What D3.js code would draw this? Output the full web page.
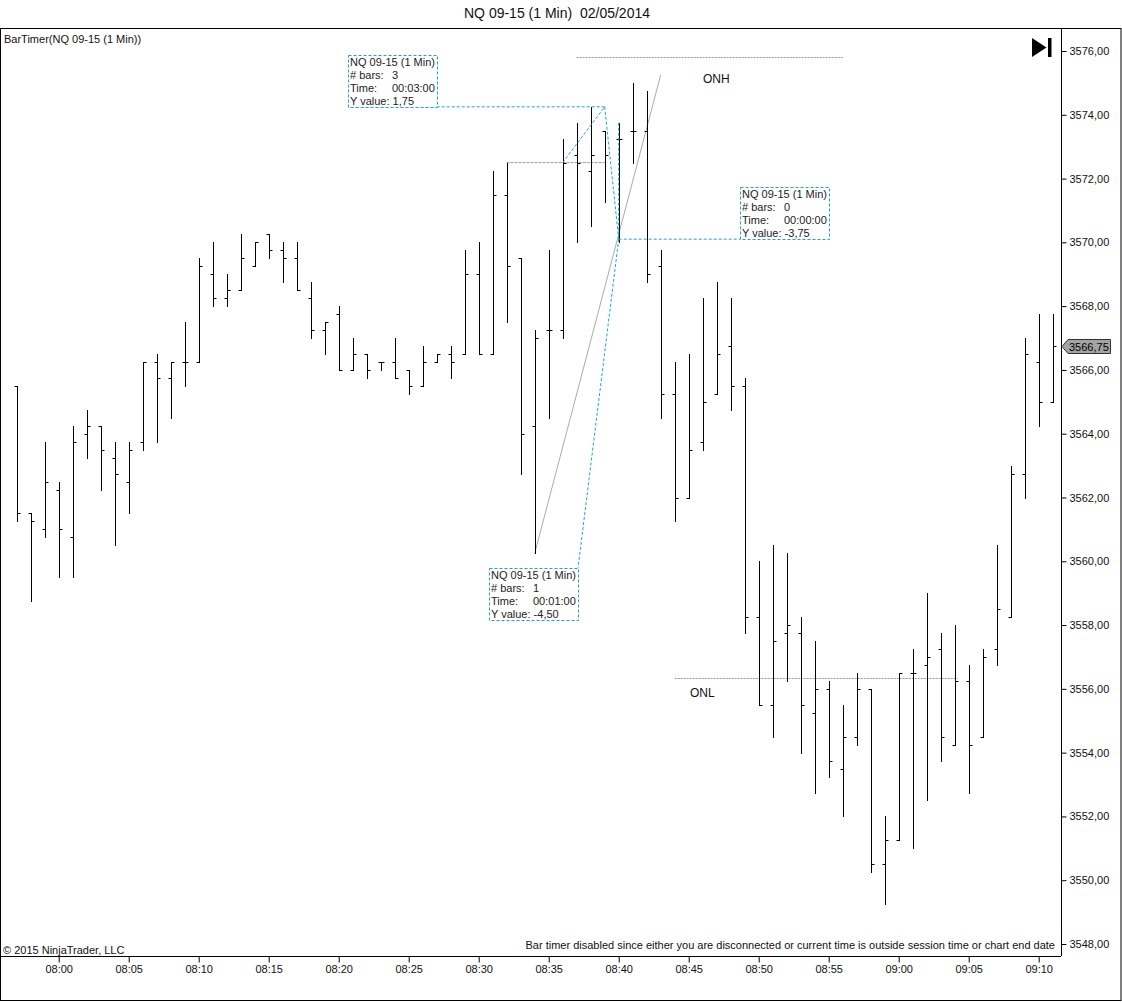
<html>
  <head>
    <style>
      body { margin: 0; background: #fff; }
      svg text { font-family: "Liberation Sans", Arial, sans-serif; }
    </style>
  </head>
  <body>
    <div id="chart"></div>
    <script src="https://d3js.org/d3.v7.min.js"></script>
    <script>
      // bar times, one minute each
      const times = ["07:57","07:58","07:59","08:00","08:01","08:02","08:03","08:04","08:05","08:06",
        "08:07","08:08","08:09","08:10","08:11","08:12","08:13","08:14","08:15","08:16",
        "08:17","08:18","08:19","08:20","08:21","08:22","08:23","08:24","08:25","08:26",
        "08:27","08:28","08:29","08:30","08:31","08:32","08:33","08:34","08:35","08:36",
        "08:37","08:38","08:39","08:40","08:41","08:42","08:43","08:44","08:45","08:46",
        "08:47","08:48","08:49","08:50","08:51","08:52","08:53","08:54","08:55","08:56",
        "08:57","08:58","08:59","09:00","09:01","09:02","09:03","09:04","09:05","09:06",
        "09:07","09:08","09:09","09:10","09:11"];

      const opens = [3565.5,3561.5,3561,3562.25,3560.75,3564,3564.25,3563.25,3562.5,3563.75,
        3566.25,3565.75,3566.25,3566.25,3569,3568.25,3568.5,3569.25,3570.25,3569.75,
        3569.5,3568.25,3567.25,3567.75,3566,3566.5,3566.25,3566.25,3566,3565.5,
        3566.25,3566.5,3566.5,3569,3566.5,3571.5,3569.5,3564.25,3567.25,3567.25,
        3572.75,3572.25,3573.5,3573.25,3573.5,3573.5,3569.25,3565.25,3562,3563.75,
        3565.25,3566.75,3565.5,3558.25,3555.5,3557.75,3557.75,3555.25,3556,3553.5,
        3554.5,3556,3550.5,3551.25,3556.5,3556.75,3557.25,3554.25,3556.25,3554.5,
        3557.25,3558.25,3562.75,3566.25,3565];
      const highs = [3565.5,3561.5,3563.75,3562.5,3564.25,3564.75,3564.25,3563.75,3563.75,3566.25,
        3566.5,3566.25,3567.5,3569.5,3570,3569,3570.25,3570,3570.25,3570,
        3570,3568.75,3567.5,3568,3567,3566.5,3566.25,3567,3566,3566.75,
        3566.5,3566.75,3569.75,3570,3572.25,3572.5,3569.5,3567.25,3569.75,3573.25,
        3573.75,3574.25,3573.5,3573.75,3575,3574.75,3569.75,3566.25,3566.5,3568.25,
        3568.75,3568.25,3565.75,3560,3560.5,3560.25,3558.25,3557.5,3556.25,3555.5,
        3556.5,3556,3552,3556.5,3557.25,3559,3557.75,3558,3556.75,3557.25,
        3560.5,3563,3567,3567.75,3567.75];
      const lows = [3561.25,3558.75,3560.75,3559.5,3559.5,3563.25,3562.25,3560.5,3561.5,3563.5,
        3563.75,3564.5,3565.5,3566.25,3568,3568,3568.5,3569.25,3569.5,3568.75,
        3568.5,3567,3566.5,3566,3566,3565.75,3566,3565.75,3565.25,3565.5,
        3566.25,3565.75,3566.5,3566.5,3566.5,3567.5,3562.75,3560.25,3564.5,3567,
        3570,3570.5,3571.25,3570,3572.5,3568.75,3564.5,3561.25,3562,3563.5,
        3565.25,3564.75,3557.75,3555.5,3554.5,3556.25,3554,3552.75,3553.25,3552,
        3554.25,3550.25,3549.25,3551.25,3551,3552.5,3553.75,3554.25,3552.75,3554.5,
        3556.75,3558.25,3562,3564.25,3565];
      const closes = [3561.5,3561.25,3562.5,3561,3563.75,3564.25,3563.5,3562.75,3563.5,3566.25,
        3565.75,3566.25,3566.25,3569.25,3568.25,3568.5,3569.5,3570,3569.75,3569.5,
        3568.5,3567.25,3567.5,3566,3566.5,3566,3566.25,3565.75,3565.5,3566.25,
        3566.5,3566.25,3569,3566.5,3571.5,3569.25,3564,3567,3567.25,3572.5,
        3572.5,3572.75,3572.75,3573.25,3573.5,3569,3565.25,3562,3563.5,3565,
        3566.5,3565.5,3558.25,3555.5,3557.5,3558,3555.5,3556,3553.75,3554.5,
        3556,3550.5,3551.25,3556.5,3556.5,3557,3554.5,3556.25,3554.25,3557,
        3558.5,3562.75,3566.5,3565,3566.75];

      const yTicks = [3548,3550,3552,3554,3556,3558,3560,3562,3564,3566,3568,3570,3572,3574,3576];
      const lastPrice = 3566.75;

      // drawing tool levels (bar index, price)
      const onhLevel = {from: 40, to: 59, price: 3575.8, label: "ONH"};
      const onlLevel = {from: 47, to: 67.2, price: 3556.35, label: "ONL"};
      const greyLine = [[35, 3572.5], [42, 3572.5]];
      const trendLine = [[37, 3560.25], [46, 3575.25]];

      // rulers: start, end, text box corner
      const rulers = [
        {pts: [[39, 3572.5], [42, 3574.25]], box: [23.65, 3574.25], anchor: "bottom-left",
         lines: [["NQ 09-15 (1 Min)", ""], ["# bars:", "3"], ["Time:", "00:03:00"], ["Y value: 1,75", ""]]},
        {pts: [[43, 3573.75], [43, 3570.1]], box: [51.67, 3570.1], anchor: "bottom-left",
         lines: [["NQ 09-15 (1 Min)", ""], ["# bars:", "0"], ["Time:", "00:00:00"], ["Y value: -3,75", ""]]},
        {pts: [[42, 3574.25], [43, 3570.1]], box: [40.1, 3559.8], anchor: "top-right",
         lines: [["NQ 09-15 (1 Min)", ""], ["# bars:", "1"], ["Time:", "00:01:00"], ["Y value: -4,50", ""]]}
      ];

      const W = 1122, H = 1002;
      const plotRight = 1061, plotTop = 28, plotBottom = 956;
      const cyan = "#1aa6cf";

      const svg = d3.select("#chart").append("svg")
        .attr("width", W).attr("height", H);

      const parse = d3.timeParse("%H:%M");
      const dates = times.map(parse);

      const x = d3.scaleTime()
        .domain([dates[0], dates[dates.length - 1]])
        .range([16.7, 1052.7]);
      const xi = d3.scaleLinear().domain([0, times.length - 1]).range(x.range());
      const y = d3.scaleLinear().domain([3548, 3576]).range([944, 51]);

      const px = v => Math.round(v) + 0.5;

      // title
      svg.append("text").attr("x", 557).attr("y", 13)
        .attr("text-anchor", "middle").attr("dominant-baseline", "central")
        .attr("font-size", 14).attr("fill", "#111")
        .text("NQ 09-15 (1 Min)\u00a0\u00a002/05/2014");

      // frames
      svg.append("rect").attr("x", 0.5).attr("y", plotTop + 0.5)
        .attr("width", W - 1.5).attr("height", 1000.5 - plotTop - 0.5)
        .attr("fill", "none").attr("stroke", "#000");
      svg.append("line").attr("x1", 0).attr("x2", plotRight).attr("y1", plotBottom + 0.5).attr("y2", plotBottom + 0.5)
        .attr("stroke", "#000");
      svg.append("line").attr("x1", plotRight + 0.5).attr("x2", plotRight + 0.5).attr("y1", plotTop).attr("y2", plotBottom)
        .attr("stroke", "#000");

      // axes
      const xAxis = svg.append("g").attr("transform", `translate(0,${plotBottom + 0.5})`)
        .call(d3.axisBottom(x).ticks(d3.timeMinute.every(5)).tickFormat(d3.timeFormat("%H:%M"))
          .tickSize(6).tickPadding(3));
      xAxis.select(".domain").remove();
      xAxis.selectAll("text").attr("font-size", 11).attr("font-family", "Liberation Sans, Arial").attr("fill", "#111");

      const yAxis = svg.append("g").attr("transform", `translate(${plotRight + 0.5},0)`)
        .call(d3.axisRight(y).tickValues(yTicks)
          .tickFormat(v => d3.format(".2f")(v).replace(".", ","))
          .tickSize(5).tickPadding(3));
      yAxis.select(".domain").remove();
      yAxis.selectAll("text").attr("font-size", 11).attr("font-family", "Liberation Sans, Arial").attr("fill", "#111");

      // texts
      svg.append("text").attr("x", 4).attr("y", 39).attr("dominant-baseline", "central")
        .attr("font-size", 11).attr("fill", "#111").text("BarTimer(NQ 09-15 (1 Min))");
      svg.append("text").attr("x", 3).attr("y", 950).attr("dominant-baseline", "central")
        .attr("font-size", 11).attr("fill", "#111").text("\u00a9 2015 NinjaTrader, LLC");
      svg.append("text").attr("x", 1055).attr("y", 945).attr("dominant-baseline", "central")
        .attr("text-anchor", "end").attr("font-size", 11).attr("fill", "#111")
        .text("Bar timer disabled since either you are disconnected or current time is outside session time or chart end date");

      // play/end icon
      svg.append("path").attr("d", "M1032,38 L1046.5,47.5 L1032,57 Z").attr("fill", "#000");
      svg.append("rect").attr("x", 1048).attr("y", 38).attr("width", 3.5).attr("height", 19).attr("fill", "#000");

      // levels
      [onhLevel, onlLevel].forEach(l => {
        svg.append("line")
          .attr("x1", xi(l.from)).attr("x2", xi(l.to))
          .attr("y1", px(y(l.price))).attr("y2", px(y(l.price)))
          .attr("stroke", "#9a9a9a").attr("stroke-dasharray", "2,1");
      });
      svg.append("text").attr("x", 703).attr("y", y(onhLevel.price) + 22).attr("dominant-baseline", "central")
        .attr("font-size", 12).attr("fill", "#111").text(onhLevel.label);
      svg.append("text").attr("x", 690).attr("y", y(onlLevel.price) + 15).attr("dominant-baseline", "central")
        .attr("font-size", 12).attr("fill", "#111").text(onlLevel.label);

      const lineGen = d3.line().x(d => xi(d[0])).y(d => y(d[1]));
      svg.append("path").attr("d", lineGen(greyLine)).attr("stroke", "#999").attr("stroke-dasharray", "3,1").attr("fill", "none");
      svg.append("path").attr("d", lineGen(trendLine)).attr("stroke", "#aaa").attr("fill", "none");

      // OHLC bars
      const bars = svg.append("g");
      dates.forEach((d, i) => {
        const cx = px(x(d));
        bars.append("line").attr("x1", cx).attr("x2", cx)
          .attr("y1", Math.round(y(highs[i]))).attr("y2", Math.round(y(lows[i])) + 1)
          .attr("stroke", "#000");
        bars.append("line").attr("x1", cx - 3).attr("x2", cx)
          .attr("y1", px(y(opens[i]))).attr("y2", px(y(opens[i]))).attr("stroke", "#000");
        bars.append("line").attr("x1", cx).attr("x2", cx + 3)
          .attr("y1", px(y(closes[i]))).attr("y2", px(y(closes[i]))).attr("stroke", "#000");
      });

      // rulers
      const boxW = 89, boxH = 52;
      rulers.forEach(r => {
        const p0 = [xi(r.pts[0][0]), y(r.pts[0][1])];
        const p1 = [xi(r.pts[1][0]), y(r.pts[1][1])];
        let bx = xi(r.box[0]), by = y(r.box[1]);
        let corner;
        if (r.anchor === "bottom-left") { by = by - boxH; corner = [bx, by + boxH]; }
        else { bx = bx - boxW; corner = [bx + boxW, by]; }
        const g = svg.append("g").attr("stroke", cyan).attr("stroke-dasharray", "3,2").attr("fill", "none");
        g.append("line").attr("x1", p0[0]).attr("y1", p0[1]).attr("x2", p1[0]).attr("y2", p1[1]);
        g.append("line").attr("x1", p1[0]).attr("y1", p1[1]).attr("x2", corner[0]).attr("y2", corner[1]);
        g.append("rect").attr("x", Math.round(bx) + 0.5).attr("y", Math.round(by) + 0.5)
          .attr("width", boxW).attr("height", boxH).attr("fill", "#fff");
        r.lines.forEach((ln, j) => {
          svg.append("text").attr("x", Math.round(bx) + 2).attr("y", Math.round(by) + 7 + j * 13)
            .attr("dominant-baseline", "central").attr("font-size", 11).attr("fill", "#222").text(ln[0]);
          if (ln[1]) svg.append("text").attr("x", Math.round(bx) + 44).attr("y", Math.round(by) + 7 + j * 13)
            .attr("dominant-baseline", "central").attr("font-size", 11).attr("fill", "#222").text(ln[1]);
        });
      });

      // last price label
      const ly = Math.round(y(lastPrice)) + 0.5;
      svg.append("path")
        .attr("d", `M${plotRight + 1},${ly} L${plotRight + 7},${ly - 7} L1110.5,${ly - 7} L1110.5,${ly + 7} L${plotRight + 7},${ly + 7} Z`)
        .attr("fill", "#a3a3a3").attr("stroke", "#333");
      svg.append("text").attr("x", plotRight + 8).attr("y", ly).attr("dominant-baseline", "central")
        .attr("font-size", 11).attr("fill", "#000").text(d3.format(".2f")(lastPrice).replace(".", ","));
    </script>
  </body>
</html>
